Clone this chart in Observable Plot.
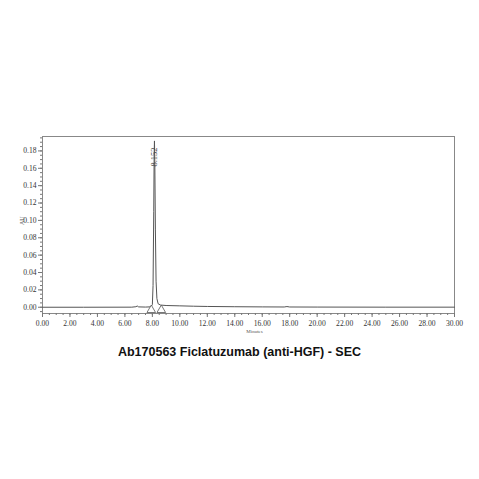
<!DOCTYPE html>
<html>
<head>
<meta charset="utf-8">
<script src="https://cdn.jsdelivr.net/npm/d3@7"></script>
<script src="https://cdn.jsdelivr.net/npm/@observablehq/plot@0.6"></script>
<style>
  html, body { margin: 0; padding: 0; background: #fff; width: 479px; height: 479px; overflow: hidden; }
  #title { font-family: "Liberation Sans", Arial, sans-serif; font-weight: bold; font-size: 12.5px; text-align: center; color: #111; height: 24px; line-height: 24px; margin-top: 0px; }
</style>
</head>
<body>
<div id="chart"></div>
<div id="title">Ab170563 Ficlatuzumab (anti-HGF) - SEC</div>
<script>
const times = [0, 3, 6.5, 6.8, 6.9, 7.0, 7.5, 7.9, 8.0, 8.05, 8.1, 8.13, 8.152, 8.18, 8.22, 8.27, 8.33, 8.42, 8.6, 9.0, 10, 11, 12, 14, 16, 17.6, 17.8, 18.0, 20, 25, 30];
const au =    [0, 0, 0.0001, 0.0006, 0.0014, 0.0004, 0.0002, 0.0005, 0.003, 0.025, 0.11, 0.175, 0.1915, 0.165, 0.09, 0.03, 0.01, 0.004, 0.0025, 0.002, 0.0016, 0.0012, 0.0009, 0.0006, 0.0004, 0.0003, 0.0008, 0.0003, 0.0002, 0.0001, 0.0001];

const peakTime = [8.152];
const peakLabel = ["8.152"];
const markerTimes = [7.92, 8.65];

const xTicks = [0, 2, 4, 6, 8, 10, 12, 14, 16, 18, 20, 22, 24, 26, 28, 30];
const yTicks = [0, 0.02, 0.04, 0.06, 0.08, 0.10, 0.12, 0.14, 0.16, 0.18];
const xMinor = d3.range(0, 30.01, 0.5);
const yMinor = d3.range(-0.005, 0.1951, 0.005);

const data = times.map((t, i) => ({t, v: au[i]}));
const serif = "'Liberation Serif', 'DejaVu Serif', serif";

const chart = Plot.plot({
  width: 479,
  height: 340,
  marginTop: 136,
  marginBottom: 27,
  marginLeft: 42,
  marginRight: 25,
  style: {fontFamily: serif, fontSize: "7.6px", color: "#444", background: "#fff"},
  x: {domain: [0, 30], label: null},
  y: {domain: [-0.0072, 0.1966], label: null},
  marks: [
    Plot.frame({stroke: "#888", strokeWidth: 1}),
    Plot.axisX({ticks: xMinor, tickSize: 2, tickFormat: () => "", stroke: "#777", label: null}),
    Plot.axisX({ticks: xTicks, tickSize: 4, tickFormat: d => d.toFixed(2), tickPadding: 3, stroke: "#777", fill: "#333", label: null}),
    Plot.axisY({ticks: yMinor, tickSize: 2, tickFormat: () => "", stroke: "#777", label: null}),
    Plot.axisY({ticks: yTicks, tickSize: 4, tickFormat: d => d.toFixed(2), tickPadding: 2, stroke: "#777", fill: "#333", label: null}),
    Plot.text(["Minutes"], {frameAnchor: "bottom", dy: 19, fontSize: 5, fill: "#555", dx: 6}),
    Plot.text(["AU"], {frameAnchor: "left", dx: -20, rotate: -90, fontSize: 6, fill: "#555"}),
    Plot.line(data, {x: "t", y: "v", stroke: "#555", strokeWidth: 1}),
    Plot.dot(markerTimes, {x: d => d, y: -0.0032, symbol: "triangle", r: 3.2, stroke: "#555", fill: "#fff", strokeWidth: 0.8}),
    Plot.text(peakTime, {x: d => d, y: 0.173, text: (d, i) => peakLabel[i], rotate: -90, fontSize: 8.5, fill: "#444"})
  ]
});
document.getElementById("chart").appendChild(chart);
</script>
</body>
</html>
